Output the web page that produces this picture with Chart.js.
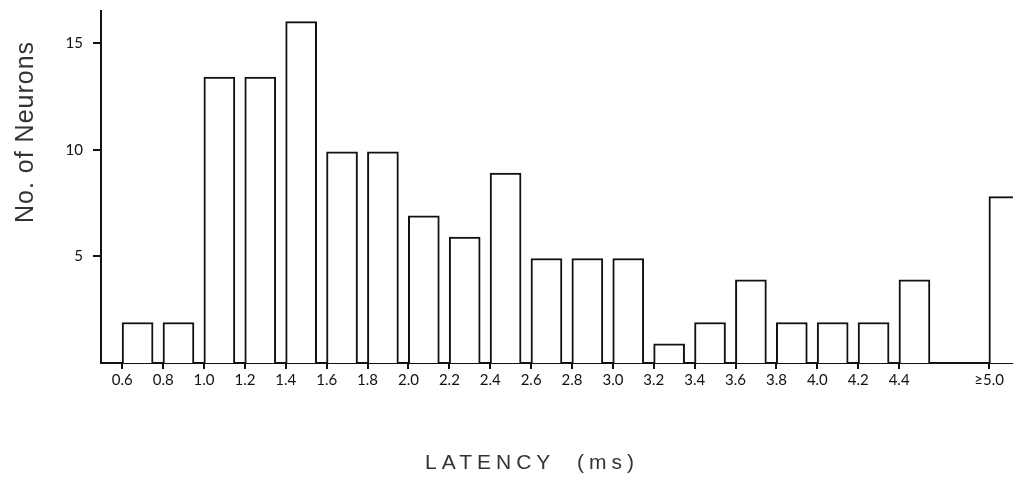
<!DOCTYPE html>
<html>
<head>
<meta charset="utf-8">
<title>Latency histogram</title>
<script src="https://cdn.jsdelivr.net/npm/chart.js@4"></script>
<style>
  html, body { margin: 0; padding: 0; background: #fff; }
  #wrap { width: 1013px; height: 477px; }
</style>
</head>
<body>
<div id="wrap"><canvas id="latencyChart" width="1013" height="477"></canvas></div>
<script>
// --- DATA ---
// Left edge of each latency bin on the axis, in ms. The last one is the open "≥5.0" bin,
// which the figure places a little short of where 5.0 would fall.
const binStarts = [0.6, 0.8, 1.0, 1.2, 1.4, 1.6, 1.8, 2.0, 2.2, 2.4, 2.6, 2.8, 3.0, 3.2, 3.4, 3.6, 3.8, 4.0, 4.2, 4.4, 4.84];
const binLabels = ['0.6', '0.8', '1.0', '1.2', '1.4', '1.6', '1.8', '2.0', '2.2', '2.4', '2.6', '2.8',
  '3.0', '3.2', '3.4', '3.6', '3.8', '4.0', '4.2', '4.4', '≥5.0'];
const neuronCounts = [1.9, 1.9, 13.4, 13.4, 16, 9.9, 9.9, 6.9, 5.9, 8.9, 4.9, 4.9, 4.9, 0.9, 1.9, 3.9, 1.9, 1.9, 1.9, 3.9, 7.8];
const yTickValues = [5, 10, 15];

// --- STYLE ---
const INK = '#111111';
const BAR_PX = 31;          // bar width in pixels
const BAR_SHIFT = 0.075;    // half a bar in axis units, so each bar starts on its tick

// Draws the two axis titles where the original figure has them (not centred on the axes)
const axisTitles = {
  id: 'axisTitles',
  afterDraw(chart) {
    const ctx = chart.ctx;
    ctx.save();
    ctx.fillStyle = '#333333';
    ctx.textAlign = 'center';
    ctx.textBaseline = 'alphabetic';

    ctx.font = '21px "Liberation Sans", Arial, sans-serif';
    ctx.letterSpacing = '5px';
    ctx.fillText('LATENCY  (ms)', 532, 469);

    ctx.font = '25px "Liberation Sans", Arial, sans-serif';
    ctx.letterSpacing = '1px';
    ctx.translate(33, 132);
    ctx.rotate(-Math.PI / 2);
    ctx.fillText('No. of Neurons', 0, 0);
    ctx.restore();
  }
};

const ctx = document.getElementById('latencyChart').getContext('2d');
new Chart(ctx, {
  type: 'bar',
  data: {
    datasets: [
      {
        label: 'No. of Neurons',
        data: binStarts.map((start, i) => ({ x: start + BAR_SHIFT, y: neuronCounts[i] })),
        backgroundColor: '#ffffff',
        borderColor: INK,
        borderWidth: 2,
        borderSkipped: 'start',
        barThickness: BAR_PX
      }
    ]
  },
  options: {
    responsive: false,
    animation: false,
    layout: { padding: { top: 11, left: 0, right: 0, bottom: 0 } },
    scales: {
      x: {
        type: 'linear',
        offset: false,
        min: 0.496,
        max: 4.957,
        afterBuildTicks: (scale) => {
          scale.ticks = binStarts.map((v) => ({ value: v }));
        },
        afterFit: (scale) => {
          scale.height = 114;
          scale.paddingLeft = 0;
          scale.paddingRight = 0;
        },
        grid: { offset: false, drawOnChartArea: false, drawTicks: true, tickLength: 6, color: INK, lineWidth: 2 },
        border: { display: true, color: INK, width: 2 },
        ticks: {
          autoSkip: false,
          maxRotation: 0,
          padding: 2,
          color: '#111',
          font: { family: 'Lato', size: 15 },
          callback: (value, index) => binLabels[index]
        }
      },
      y: {
        min: 0,
        max: 16.5,
        afterBuildTicks: (scale) => {
          scale.ticks = yTickValues.map((v) => ({ value: v }));
        },
        afterFit: (scale) => {
          scale.width = 101;
          scale.paddingTop = 0;
          scale.paddingBottom = 0;
        },
        grid: { drawOnChartArea: false, drawTicks: true, tickLength: 8, color: INK, lineWidth: 2 },
        border: { display: true, color: INK, width: 2 },
        ticks: {
          padding: 10,
          color: '#111',
          font: { family: 'Lato', size: 15 }
        }
      }
    },
    plugins: {
      legend: { display: false },
      tooltip: { enabled: false }
    }
  },
  plugins: [axisTitles]
});
</script>
</body>
</html>
